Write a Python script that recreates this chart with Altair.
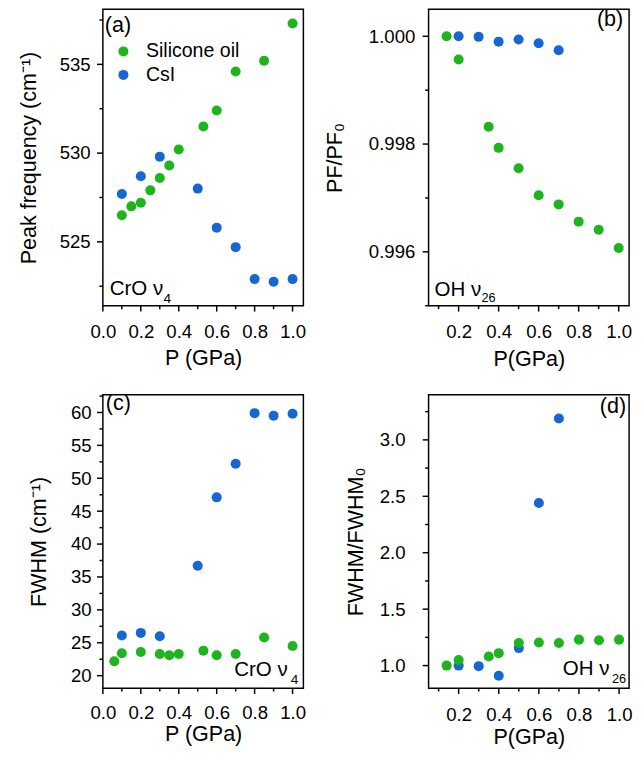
import altair as alt
import pandas as pd

GREEN = "#1DB41D"
BLUE = "#1766D2"
SERIES = ["Silicone oil", "CsI"]

# ---- data ----
a_oil_p = [0.1, 0.15, 0.2, 0.25, 0.3, 0.35, 0.4, 0.53, 0.6, 0.7, 0.85, 1.0]
a_oil_v = [526.5, 527.0, 527.2, 527.9, 528.6, 529.3, 530.2, 531.5, 532.4, 534.6, 535.2, 537.3]
a_csi_p = [0.1, 0.2, 0.3, 0.5, 0.6, 0.7, 0.8, 0.9, 1.0]
a_csi_v = [527.7, 528.7, 529.8, 528.0, 525.8, 524.7, 522.9, 522.75, 522.9]

b_oil_p = [0.14, 0.2, 0.35, 0.4, 0.5, 0.6, 0.7, 0.8, 0.9, 1.0]
b_oil_v = [1.0, 0.99957, 0.99832, 0.99793, 0.99755, 0.99705, 0.99688, 0.99656, 0.99641, 0.99607]
b_csi_p = [0.2, 0.3, 0.4, 0.5, 0.6, 0.7]
b_csi_v = [1.0, 0.99999, 0.99990, 0.99994, 0.99987, 0.99974]

c_oil_p = [0.06, 0.1, 0.2, 0.3, 0.35, 0.4, 0.53, 0.6, 0.7, 0.85, 1.0]
c_oil_v = [22.2, 23.4, 23.6, 23.3, 23.1, 23.3, 23.8, 23.1, 23.3, 25.8, 24.5]
c_csi_p = [0.1, 0.2, 0.3, 0.5, 0.6, 0.7, 0.8, 0.9, 1.0]
c_csi_v = [26.1, 26.5, 26.0, 36.7, 47.1, 52.2, 59.9, 59.5, 59.8]

d_oil_p = [0.14, 0.2, 0.35, 0.4, 0.5, 0.6, 0.7, 0.8, 0.9, 1.0]
d_oil_v = [1.0, 1.05, 1.08, 1.11, 1.20, 1.205, 1.20, 1.23, 1.225, 1.23]
d_csi_p = [0.2, 0.3, 0.4, 0.5, 0.6, 0.7]
d_csi_v = [1.0, 0.995, 0.91, 1.155, 2.44, 3.19]

# tick values: major (labelled) and minor
x_major_ac = [0.0, 0.2, 0.4, 0.6, 0.8, 1.0]
x_minor_ac = [0.1, 0.3, 0.5, 0.7, 0.9]
x_major_bd = [0.2, 0.4, 0.6, 0.8, 1.0]
x_minor_bd = [0.1, 0.3, 0.5, 0.7, 0.9]
y_major_a = [525, 530, 535]
y_minor_a = [522.5, 527.5, 532.5, 537.5]
y_major_b = [0.996, 0.998, 1.000]
y_minor_b = [0.995, 0.997, 0.999]
y_major_c = [20, 25, 30, 35, 40, 45, 50, 55, 60]
y_minor_c = [22.5, 27.5, 32.5, 37.5, 42.5, 47.5, 52.5, 57.5, 62.5]
y_major_d = [1.0, 1.5, 2.0, 2.5, 3.0]
y_minor_d = [1.25, 1.75, 2.25, 2.75, 3.25]

FONT = "Liberation Sans"
MAJ, MIN = 6, 3.5


def make_df(op, ov, cp, cv):
    rows = [{"P": p, "V": v, "S": "CsI", "o": 0} for p, v in zip(cp, cv)]
    rows += [{"P": p, "V": v, "S": "Silicone oil", "o": 1} for p, v in zip(op, ov)]
    return pd.DataFrame(rows)


def axis(vals, fmt, title, lpad, tpad, orient):
    return alt.Axis(
        values=vals, format=fmt, ticks=False, tickSize=0,
        domain=False, grid=False,
        labelFont=FONT, labelFontSize=19, labelColor="black",
        labelPadding=lpad, labelFlush=False, labelOverlap=False, labelBound=False,
        title=title, titleFont=FONT, titleFontSize=22, titleFontWeight="normal",
        titleColor="black", titlePadding=tpad, orient=orient,
    )


def text_layer(txt, x, y, align, size):
    return alt.Chart(pd.DataFrame({"t": [txt]})).mark_text(
        align=align, baseline="alphabetic", font=FONT, fontSize=size, color="black",
    ).encode(text="t:N", x=alt.value(x), y=alt.value(y))


def xticks(vals, scale, ax, h, length):
    return alt.Chart(pd.DataFrame({"P": vals})).mark_rule(
        color="black", strokeWidth=1.5
    ).encode(x=alt.X("P:Q", scale=scale, axis=ax),
             y=alt.value(h), y2=alt.value(h + length))


def yticks(vals, scale, ax, length):
    return alt.Chart(pd.DataFrame({"V": vals})).mark_rule(
        color="black", strokeWidth=1.5
    ).encode(y=alt.Y("V:Q", scale=scale, axis=ax),
             x=alt.value(0), x2=alt.value(-length))


def panel(df, xdom, ydom, xmaj, xmin, xfmt, ymaj, ymin, yfmt, xt, yt,
          xlpad, xtpad, ylpad, ytpad, w, h, texts, legend=None):
    xs = alt.Scale(domain=xdom, nice=False, zero=False)
    ys = alt.Scale(domain=ydom, nice=False, zero=False)
    xa = axis(xmaj, xfmt, xt, xlpad, xtpad, "bottom")
    ya = axis(ymaj, yfmt, yt, ylpad, ytpad, "left")
    pts = alt.Chart(df).mark_circle(size=105, opacity=1).encode(
        x=alt.X("P:Q", scale=xs, axis=xa),
        y=alt.Y("V:Q", scale=ys, axis=ya),
        color=alt.Color("S:N", scale=alt.Scale(domain=SERIES, range=[GREEN, BLUE]),
                        legend=legend),
        order=alt.Order("o:Q"),
    )
    ticks = [xticks(xmaj, xs, xa, h, MAJ), xticks(xmin, xs, xa, h, MIN),
             yticks(ymaj, ys, ya, MAJ), yticks(ymin, ys, ya, MIN)]
    return alt.layer(pts, *ticks, *texts).properties(width=w, height=h)


leg = alt.Legend(
    orient="none", legendX=11, legendY=33, title=None,
    symbolType="circle", symbolSize=105, symbolStrokeWidth=0,
    labelFont=FONT, labelFontSize=20, labelColor="black",
    labelOffset=13, rowPadding=4, padding=0,
)

wa, ha = 205, 303
wb, hb = 205, 303
wc, hc = 205, 300
wd, hd = 205, 300

pa = panel(make_df(a_oil_p, a_oil_v, a_csi_p, a_csi_v), [0.0, 1.057], [521.4, 538.1],
           x_major_ac, x_minor_ac, ".1f", y_major_a, y_minor_a, "d",
           "P (GPa)", "Peak frequency (cm⁻¹)", 17, 7, 13, 19, wa, ha,
           [text_layer("(a)", 2, 23, "left", 22),
            text_layer("CrO ν", 7, ha - 11, "left", 21),
            text_layer("4", 62, ha - 3, "left", 14)], legend=leg)

pb = panel(make_df(b_oil_p, b_oil_v, b_csi_p, b_csi_v), [0.05, 1.052], [0.995, 1.0005],
           x_major_bd, x_minor_bd, ".1f", y_major_b, y_minor_b, ".3f",
           "P(GPa)", "PF/PF₀", 17, 8, 14, 22, wb, hb,
           [text_layer("(b)", wb - 6, 17, "right", 22),
            text_layer("OH ν", 6, hb - 10, "left", 21),
            text_layer("26", 54, hb - 4, "left", 13)])

pc = panel(make_df(c_oil_p, c_oil_v, c_csi_p, c_csi_v), [0.0, 1.057], [18.1, 62.7],
           x_major_ac, x_minor_ac, ".1f", y_major_c, y_minor_c, "d",
           "P (GPa)", "FWHM (cm⁻¹)", 16, 2, 12, 21, wc, hc,
           [text_layer("(c)", 3, 16, "left", 22),
            text_layer("CrO ν", wc - 16, hc - 12, "right", 21),
            text_layer("4", wc - 5, hc - 4, "right", 14)])

pd_ = panel(make_df(d_oil_p, d_oil_v, d_csi_p, d_csi_v), [0.05, 1.05], [0.8, 3.4],
            x_major_bd, x_minor_bd, ".1f", y_major_d, y_minor_d, ".1f",
            "P(GPa)", "FWHM/FWHM₀", 18, 3, 24, 12, wd, hd,
            [text_layer("(d)", wd - 3, 19, "right", 22),
             text_layer("OH ν", wd - 20, hd - 13, "right", 21),
             text_layer("26", wd - 3, hd - 5, "right", 13)])

chart = alt.concat(pa, pb, pc, pd_, columns=2, spacing={"row": 91, "column": 128}).resolve_scale(
    color="independent"
).properties(
    bounds="flush",
    padding={"left": 9, "top": -9, "right": 0, "bottom": 0},
).configure_view(
    stroke="black", strokeWidth=1.5
)

chart.save("out.html", embed_options={"renderer": "svg", "actions": False})
